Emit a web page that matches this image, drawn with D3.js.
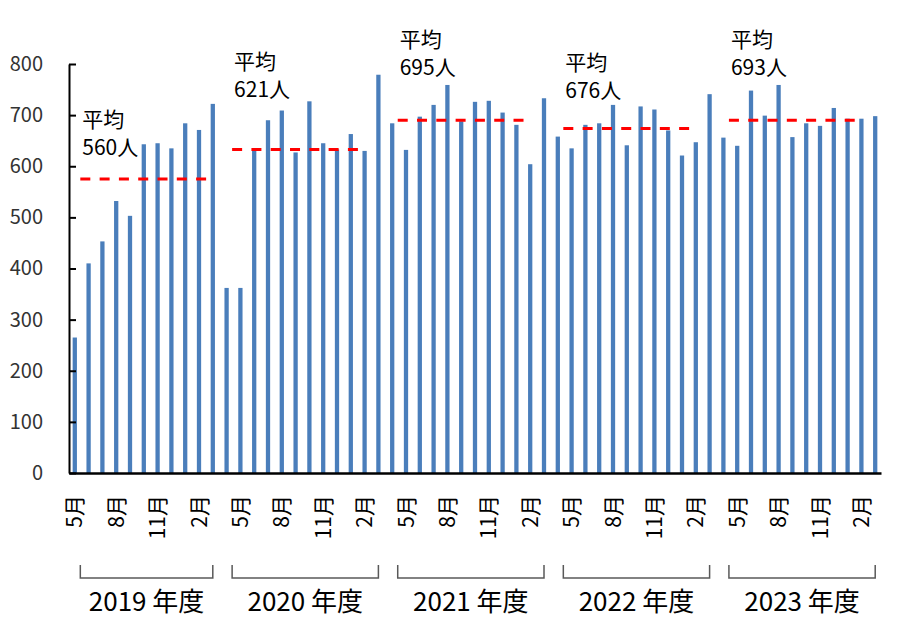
<!DOCTYPE html>
<html><head><meta charset="utf-8">
<script src="https://cdn.jsdelivr.net/npm/d3@7"></script>
<style>
html,body{margin:0;padding:0;background:#fff;}
svg{display:block;}
text{font-family:"Noto Sans CJK JP","Noto Sans",sans-serif;}
</style></head>
<body><svg id="chart" width="900" height="628"></svg>
<script>
// Fiscal years and their months
const fiscalYears = ["2019", "2020", "2021", "2022", "2023"];
const yearLabels = ["2019 年度", "2020 年度", "2021 年度", "2022 年度", "2023 年度"];
const months2019 = [5, 6, 7, 8, 9, 10, 11, 12, 1, 2, 3];
const monthsFull = [4, 5, 6, 7, 8, 9, 10, 11, 12, 1, 2, 3];
const labeledMonths = [5, 8, 11, 2];
// Monthly values (people)
const fy2019 = [265, 410, 453, 532, 503, 643, 645, 635, 684, 671, 722];
const fy2020 = [362, 362, 632, 690, 709, 627, 727, 645, 633, 663, 630, 779];
const fy2021 = [684, 632, 697, 720, 759, 688, 726, 728, 705, 681, 604, 733];
const fy2022 = [658, 635, 681, 684, 720, 641, 717, 711, 670, 621, 647, 741];
const fy2023 = [656, 640, 748, 699, 759, 657, 684, 679, 714, 693, 693, 698];
// Average annotations
const avgLabels = [560, 621, 695, 676, 693];
const avgLineLevels = [575, 633, 690, 674, 690];
const avgTextLevels = [677, 791, 834, 789, 834];
const yTicks = [0, 100, 200, 300, 400, 500, 600, 700, 800];

(function () {
const yearMonths = [months2019, monthsFull, monthsFull, monthsFull, monthsFull];
const yearValues = [fy2019, fy2020, fy2021, fy2022, fy2023];
const data = [];
const yearRanges = [];
yearValues.forEach((vals, yi) => {
  const start = data.length;
  vals.forEach((v, mi) => data.push({idx: data.length, year: fiscalYears[yi], month: yearMonths[yi][mi], value: v}));
  yearRanges.push({first: start, last: data.length - 1});
});

const svg = d3.select("#chart");
const mLeft = 69, mRight = 881, mTop = 64, mBottom = 473;

const x = d3.scaleBand().domain(data.map(d => d.idx)).range([mLeft, mRight])
  .paddingInner(0.69).paddingOuter(0.265);
const bw = x.bandwidth();
const xi = d3.scaleLinear().domain([0, data.length - 1])
  .range([x(0) + bw / 2, x(data.length - 1) + bw / 2]);
const y = d3.scaleLinear().domain([0, 800]).range([mBottom, mTop]);

// bars
svg.append("g").selectAll("rect").data(data).join("rect")
  .attr("x", d => x(d.idx)).attr("width", bw)
  .attr("y", d => y(d.value)).attr("height", d => y(0) - y(d.value))
  .attr("fill", "#4a7ebb");

// y axis
const yAxis = svg.append("g").attr("transform", `translate(${mLeft},0)`)
  .call(d3.axisLeft(y).tickValues(yTicks).tickSizeInner(-7).tickSizeOuter(0).tickPadding(26));
yAxis.select(".domain").attr("stroke", "#000").attr("stroke-width", 2);
yAxis.selectAll(".tick line").attr("stroke", "#000").attr("stroke-width", 2);
yAxis.selectAll(".tick text").attr("font-size", 20).attr("fill", "#333")
  .style("font-family", '"Noto Sans CJK JP","Noto Sans",sans-serif');

// x axis
const tickIdx = data.filter(d => labeledMonths.includes(d.month)).map(d => d.idx);
const xAxis = svg.append("g").attr("transform", `translate(0,${mBottom})`)
  .call(d3.axisBottom(x).tickValues(tickIdx).tickSize(0).tickSizeOuter(0)
    .tickFormat(i => data[i].month + "月"));
xAxis.select(".domain").attr("stroke", "#000").attr("stroke-width", 2.5);
xAxis.selectAll(".tick text")
  .attr("font-size", 21).attr("fill", "#000")
  .style("font-family", '"Noto Sans CJK JP","Noto Sans",sans-serif')
  .attr("text-anchor", "end")
  .attr("transform", "translate(0,22) rotate(-90)")
  .attr("x", 0).attr("y", 0).attr("dy", "0.36em");

// brackets, year labels, averages
const brTop = 565, brBot = 578;
const bg = svg.append("g");
yearRanges.forEach((r, i) => {
  const x0 = xi(r.first + 0.4), x1 = xi(r.last);
  bg.append("path")
    .attr("d", `M${x0},${brTop}V${brBot}H${x1}V${brTop}`)
    .attr("fill", "none").attr("stroke", "#595959").attr("stroke-width", 1.5);
  bg.append("text").attr("x", (x0 + x1) / 2).attr("y", 611)
    .attr("text-anchor", "middle").attr("font-size", 26).attr("fill", "#000")
    .text(yearLabels[i]);
  svg.append("line")
    .attr("x1", x0).attr("x2", xi(r.first + 0.4 + 9.65))
    .attr("y1", y(avgLineLevels[i])).attr("y2", y(avgLineLevels[i]))
    .attr("stroke", "#ff0000").attr("stroke-width", 3).attr("stroke-dasharray", "10,9.3");
  const t = svg.append("text").attr("x", x0 + 2).attr("y", y(avgTextLevels[i]))
    .attr("font-size", 21).attr("fill", "#000");
  t.append("tspan").attr("x", x0 + 2).text("平均");
  t.append("tspan").attr("x", x0 + 2).attr("dy", 28).text(avgLabels[i] + "人");
});
})();
</script></body></html>
